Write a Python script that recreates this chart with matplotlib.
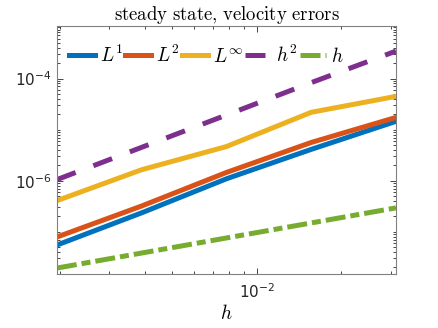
import numpy as np
import matplotlib
matplotlib.use('Agg')
import matplotlib.pyplot as plt
from matplotlib.ticker import LogLocator, FixedLocator, FuncFormatter, NullFormatter

plt.rcParams['mathtext.fontset'] = 'cm'
plt.rcParams['font.family'] = 'DejaVu Sans'

# grid sizes and velocity errors
h = [1/512, 1/256, 1/128, 1/64, 1/32]
err_L1 = [5.5e-8, 2.35e-7, 1.09e-6, 4.1e-6, 1.45e-5]
err_L2 = [7.9e-8, 3.2e-7, 1.45e-6, 5.6e-6, 1.73e-5]
err_Linf = [4.07e-7, 1.64e-6, 4.66e-6, 2.18e-5, 4.47e-5]
ref_h2 = [1.05e-6, 4.5e-6, 1.93e-5, 8.3e-5, 3.44e-4]
ref_h = [1.95e-8, 3.84e-8, 7.57e-8, 1.49e-7, 2.94e-7]

labels = [r'$L^1$', r'$L^2$', r'$L^\infty$', r'$h^2$', r'$h$']
colors = ['#0072BD', '#D95319', '#EDB120', '#7E2F8E', '#77AC30']

fig = plt.figure(figsize=(4.38, 3.28), dpi=100)
ax = fig.add_axes([0.130, 0.165, 0.774, 0.756])

lw = 3.6
ax.loglog(h, err_L1, color=colors[0], lw=lw, label=labels[0])
ax.loglog(h, err_L2, color=colors[1], lw=lw, label=labels[1])
ax.loglog(h, err_Linf, color=colors[2], lw=lw, label=labels[2])
ax.loglog(h, ref_h2, color=colors[3], lw=lw, ls=(0, (4, 3.8)), label=labels[3],
          dash_capstyle='butt')
ax.loglog(h, ref_h, color=colors[4], lw=lw, ls=(0, (4, 1, 1.8, 1)), label=labels[4],
          dash_capstyle='butt')

ax.set_xlim(1/512, 1/32)
ax.set_ylim(1.5e-8, 1.07e-3)

# ticks, matlab style
ax.xaxis.set_major_locator(FixedLocator([1e-2]))
ax.xaxis.set_minor_locator(LogLocator(base=10, subs=np.arange(2, 10), numticks=100))
ax.yaxis.set_major_locator(FixedLocator([1e-6, 1e-4]))
ax.yaxis.set_minor_locator(LogLocator(base=10, subs=np.arange(1, 10), numticks=100))
fmt = FuncFormatter(lambda v, p: r'$\mathregular{10^{%d}}$' % int(round(np.log10(v))))
ax.xaxis.set_major_formatter(fmt)
ax.yaxis.set_major_formatter(fmt)
ax.xaxis.set_minor_formatter(NullFormatter())
ax.yaxis.set_minor_formatter(NullFormatter())
ax.tick_params(which='both', direction='in', top=True, right=True,
               colors='#262626', labelsize=11, width=0.6)
ax.tick_params(axis='x', which='major', pad=6)
ax.tick_params(which='major', length=4)
ax.tick_params(which='minor', length=2.5)
for s in ax.spines.values():
    s.set_color('#808080')
    s.set_linewidth(0.8)

ax.set_title(r'$\mathrm{steady\ state{,}\ velocity\ errors}$', fontsize=13.5, pad=4)
ax.set_xlabel(r'$h$', fontsize=14, labelpad=2)

ax.legend(ncol=5, loc='upper left', bbox_to_anchor=(0.0, 0.97), frameon=False,
          fontsize=14, handlelength=1.35, handletextpad=0.25, columnspacing=0.1,
          borderaxespad=0.2)

fig.savefig('out.png', dpi=100)
